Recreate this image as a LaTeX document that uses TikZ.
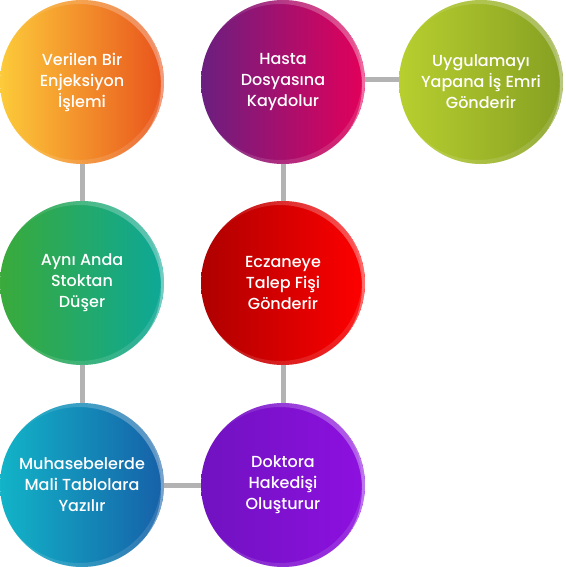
\documentclass[tikz,border=0pt]{standalone}
\usepackage{fontspec}
\setmainfont{Poppins}[UprightFont={* Medium}]
\usetikzlibrary{fadings,calc}
\definecolor{linegray}{HTML}{B3B3B3}
\definecolor{aL}{HTML}{FCCB3A}\definecolor{aR}{HTML}{E9531C}
\definecolor{bL}{HTML}{6A1F80}\definecolor{bR}{HTML}{E3005A}
\definecolor{cL}{HTML}{B8CF2F}\definecolor{cR}{HTML}{86A022}
\definecolor{dL}{HTML}{3AAA3A}\definecolor{dR}{HTML}{0DA898}
\definecolor{eL}{HTML}{AE0000}\definecolor{eR}{HTML}{FF0000}
\definecolor{fL}{HTML}{12B4C8}\definecolor{fR}{HTML}{1660A8}
\definecolor{gL}{HTML}{7012C0}\definecolor{gR}{HTML}{8E10E0}
\tikzfading[name=glossfade, left color=transparent!100, right color=transparent!0]
\tikzset{
  bubble/.style={circle, minimum size=164pt, inner sep=0pt, text=white,
    align=center, font=\fontsize{16}{21}\selectfont},
  link/.style={draw=linegray, line width=5pt},
}
\newcommand{\glossy}[1]{%
  \begin{scope}
    \clip (#1) circle (82pt);
    \fill[white, opacity=0.35, even odd rule, path fading=glossfade]
      (#1) circle (82pt) ($(#1)+(-3pt,-4pt)$) circle (82pt);
    \fill[white, opacity=0.12, even odd rule]
      (#1) circle (82pt) ($(#1)+(-3pt,4pt)$) circle (82pt);
  \end{scope}}
\begin{document}
\begin{tikzpicture}[x=1pt,y=-1pt]
\useasboundingbox (0,0) rectangle (565,567);
\node[bubble, left color=aL, right color=aR] (A) at (82,82) {Verilen Bir\\Enjeksiyon\\İşlemi};
\node[bubble, left color=bL, right color=bR] (B) at (283,82) {Hasta\\Dosyasına\\Kaydolur};
\node[bubble, left color=cL, right color=cR] (C) at (481,82) {Uygulamayı\\Yapana İş Emri\\Gönderir};
\node[bubble, left color=dL, right color=dR] (D) at (82,283) {Aynı Anda\\Stoktan\\Düşer};
\node[bubble, left color=eL, right color=eR] (E) at (283,283) {Eczaneye\\Talep Fişi\\Gönderir};
\node[bubble, left color=fL, right color=fR] (F) at (82,485) {Muhasebelerde\\Mali Tablolara\\Yazılır};
\node[bubble, left color=gL, right color=gR] (G) at (283,485) {Doktora\\Hakedişi\\Oluşturur};
\glossy{A}\glossy{B}\glossy{C}\glossy{D}\glossy{E}\glossy{F}\glossy{G}
\draw[link] (A) -- (D);
\draw[link] (D) -- (F);
\draw[link] (F) -- (G);
\draw[link] (G) -- (E);
\draw[link] (E) -- (B);
\draw[link] ([yshift=2pt]B.east) -- ([yshift=2pt]C.west);
\end{tikzpicture}
\end{document}
